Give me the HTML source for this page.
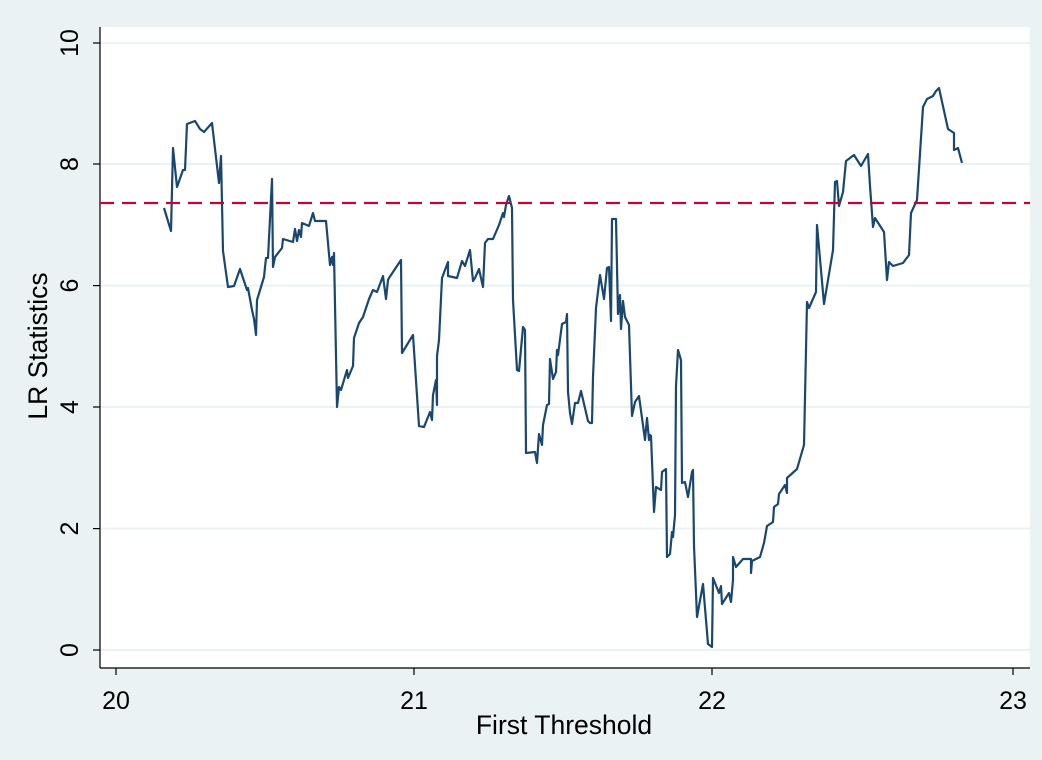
<!DOCTYPE html>
<html><head><meta charset="utf-8"><style>
html,body{margin:0;padding:0;background:#EAF2F3;}
svg{display:block;font-family:"Liberation Sans",sans-serif;}
</style></head><body>
<svg width="1042" height="760" viewBox="0 0 1042 760" xmlns="http://www.w3.org/2000/svg">
<rect x="0" y="0" width="1042" height="760" fill="#EAF2F3"/>
<rect x="100" y="27" width="930" height="641" fill="#ffffff"/>
<g stroke="#EAF2F3" stroke-width="2">
<line x1="100" x2="1030" y1="650" y2="650"/>
<line x1="100" x2="1030" y1="528.6" y2="528.6"/>
<line x1="100" x2="1030" y1="407" y2="407"/>
<line x1="100" x2="1030" y1="285.6" y2="285.6"/>
<line x1="100" x2="1030" y1="164" y2="164"/>
<line x1="100" x2="1030" y1="43" y2="43"/>
</g>
<g stroke="#000" stroke-width="1.2">
<line x1="100" y1="27" x2="100" y2="668"/>
<line x1="100" y1="668" x2="1030" y2="668"/>
<line x1="93" x2="100" y1="650" y2="650"/>
<line x1="93" x2="100" y1="528.6" y2="528.6"/>
<line x1="93" x2="100" y1="407" y2="407"/>
<line x1="93" x2="100" y1="285.6" y2="285.6"/>
<line x1="93" x2="100" y1="164" y2="164"/>
<line x1="93" x2="100" y1="43" y2="43"/>
<line x1="116" x2="116" y1="668" y2="675"/>
<line x1="414" x2="414" y1="668" y2="675"/>
<line x1="712" x2="712" y1="668" y2="675"/>
<line x1="1013" x2="1013" y1="668" y2="675"/>
</g>
<g font-size="25" fill="#000" text-anchor="middle">
<text transform="translate(78,650) rotate(-90)">0</text>
<text transform="translate(78,528.6) rotate(-90)">2</text>
<text transform="translate(78,407) rotate(-90)">4</text>
<text transform="translate(78,285.6) rotate(-90)">6</text>
<text transform="translate(78,164) rotate(-90)">8</text>
<text transform="translate(78,43) rotate(-90)">10</text>
<text x="116" y="709">20</text>
<text x="414" y="709">21</text>
<text x="712" y="709">22</text>
<text x="1013" y="709">23</text>
</g>
<g font-size="26.5" fill="#000" text-anchor="middle">
<text x="564" y="734">First Threshold</text>
<text transform="translate(47,346) rotate(-90)">LR Statistics</text>
</g>
<polyline fill="none" stroke="#1A476F" stroke-width="2.2" stroke-linejoin="round" points="
164,208 171,231 173,148 177,187 183,170 185,170 187,124 195,121 200,129 204,132 212,123 219,183 221,156 223,251 228,287 234,286 240,269 247,290 248,288 252,310 254,319 256,335 257,300 264,277 266,258 268,258 272,179 273,267 275,257 282,248 283,239 293,242 295,229 297,241 299,230 301,237 302,223 309,226 313,213 315,221 326,221 330,265 332,257 333,265 334,253 337,407 339,387 341,390 347,370 348,378 353,366 354,338 359,323 363,317 369,299 373,290 377,292 383,276 386,299 388,280 389,278 401,260 402,353 413,335 419,426 424,427 430,412 432,420 433,395 436,380 437,405 437,356 439,340 442,278 448,262 448,276 457,278 462,261 465,266 470,250 473,281 475,278 479,269 483,287 485,243 488,239 493,239 499,225 503,213 504,217 506,205 509,196 512,208 513,300 517,370 519,371 523,327 525,330 526,453 535,452 537,463 539,434 542,445 543,425 547,405 549,404 550,359 553,379 556,372 557,350 558,355 562,324 566,322 567,314 568,392 570,413 572,424 575,403 578,403 581,391 588,421 590,423 592,423 593,377 596,308 600,275 604,299 607,268 609,267 611,321 612,219 616,219 618,314 620,295 621,329 623,301 625,317 629,325 632,416 635,402 639,396 642,418 645,440 647,418 649,440 650,435 651,436 654,512 656,487 661,490 662,472 666,469 667,557 670,554 672,532 673,537 675,515 676,386 678,350 681,360 682,483 685,482 688,497 692,472 693,470 694,546 697,617 703,584 708,644 712,647 713,578 719,593 721,586 722,604 729,593 731,602 733,580 733,557 736,567 743,559 751,559 751,573 752,561 760,557 764,543 767,526 773,522 774,507 778,504 779,494 785,485 787,493 787,478 797,469 804,445 807,302 809,308 816,292 817,225 824,304 833,250 835,182 837,181 839,206 843,192 846,161 854,155 861,166 868,154 870,186 873,227 875,218 884,232 887,280 889,262 893,266 903,263 909,255 911,213 917,200 923,107 927,99 933,96 936,91 939,88 948,129 954,133 954,150 958,148 962,163"/>
<line x1="100" x2="1030" y1="203" y2="203" stroke="#C10534" stroke-width="2.2" stroke-dasharray="14,8"/>
</svg>
</body></html>
